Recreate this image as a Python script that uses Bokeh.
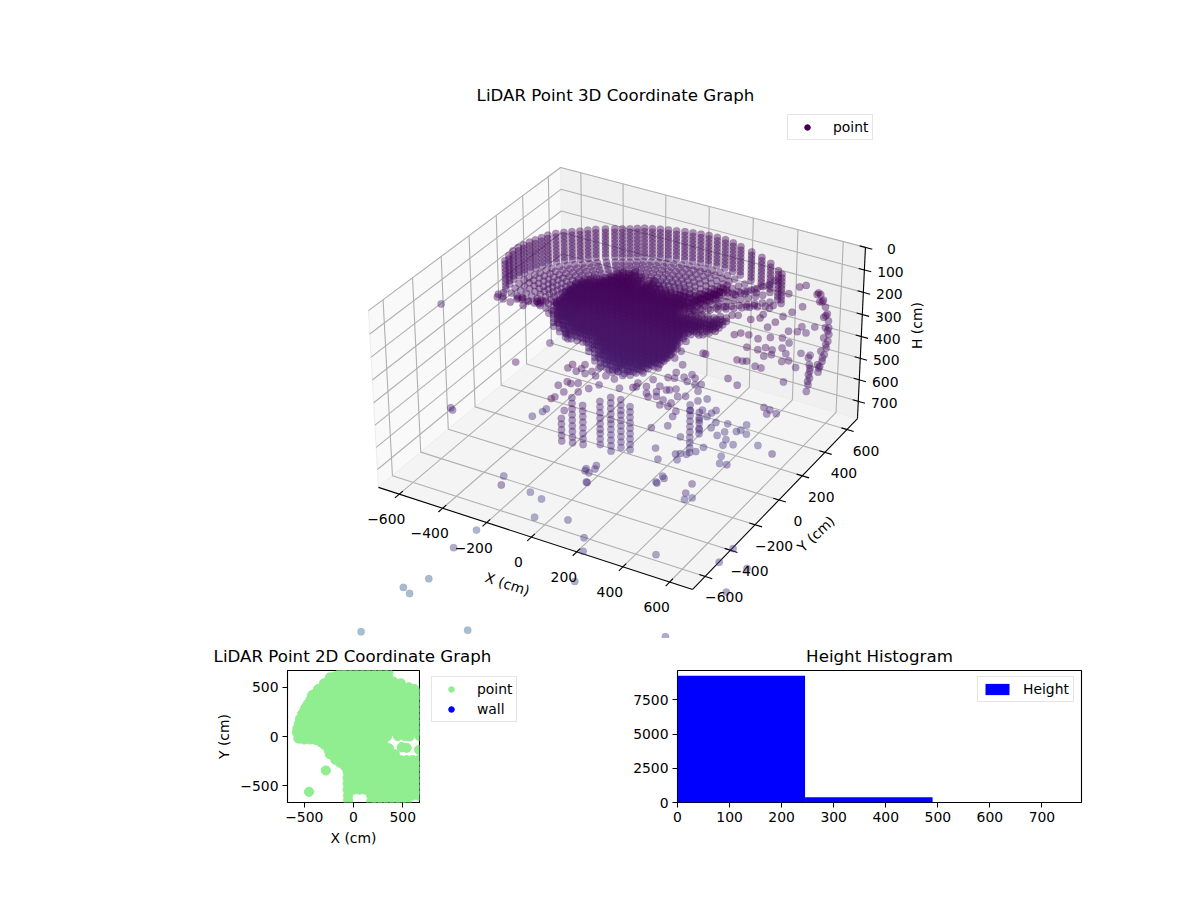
import numpy as np
from bokeh.embed import file_html
from bokeh.resources import INLINE
from bokeh.layouts import column, row
from bokeh.models import ColumnDataSource, Legend, LegendItem, Label, FixedTicker, Range1d, BoxAnnotation
from bokeh.palettes import Viridis256
from bokeh.plotting import figure
from bokeh.core.properties import value

FONT = "DejaVu Sans"
X_TICKS = [-600, -400, -200, 0, 200, 400, 600]
Y_TICKS = [-600, -400, -200, 0, 200, 400, 600]
H_TICKS = [0, 100, 200, 300, 400, 500, 600, 700]
XY_LIM = 697
H_LIM = 782

# isolated returns
FAR_X = [-1047,-816,-568,-504,-450,-486,-18,-778,54,-450,49,-965,-1100,-1069,-775,-1340,585,9,375,650,708,820,839,2,11,47,322,353,475,448,570,711,-275,-395,-612,-486,-436,-418,-27]
FAR_Y = [300,0,0,100,100,100,-400,100,-400,-560,-400,0,0,0,0,0,-700,-400,-400,-400,-400,-500,-700,-300,-300,-300,-300,-300,-300,-300,-200,-100,-345,100,100,100,100,100,-400]
FAR_H = [546,822,1073,1187,1203,1305,880,1465,939,1060,1004,1718,1809,1830,1919,2128,1033,1159,910,852,771,764,743,703,754,681,658,627,613,663,552,514,276,447,295,815,778,760,388]

# sparse field on the right
FIELD_A_X = 560
FIELD_A_Y = [308,402,459,264,342,433,199,134,316,394,472,433,550,160,264,324,121,178,264,108,173,298,433,517,264,324,37,87,389,285,-108,-184,-114,-69,-35,121,173,147,230,-9,69,-140,-88,-22,56,-35,56]
FIELD_A_H = [59,74,94,138,157,176,131,121,228,268,312,265,324,179,232,284,204,243,277,235,261,319,385,435,337,364,244,277,427,440,253,185,140,168,185,470,508,513,555,18,50,19,38,78,133,125,181]
FIELD_B_X = 450
FIELD_B_Y = [247,312,364,169,234]
FIELD_B_H = [56,183,180,80,107]
FIELD_C_X = 350
FIELD_C_Y = [8,29,347,268,190,125,242,294,607,555,503,451,399,347,294,242,203]
FIELD_C_H = [233,247,136,103,117,83,180,206,200,194,177,163,144,125,101,83,63]

# wall arcs at the far right
ARC_X = 700
ARC_Y = [268,300,326,346,365,378,383,386,380,367,352,334,315,302,281,315,352,373,362,336,307,294,320,341,352,334,294,211,221,227,227,216,203,229,216,211]
ARC_H = [5,21,57,97,136,173,206,237,264,288,310,331,343,363,4,59,138,215,270,317,347,326,279,230,190,136,49,253,289,321,351,376,399,308,331,358]

# fringe below the dense core
FRINGE_A_X = 0
FRINGE_A_Y = [-413,-379,-314,-288,-340,-393,-445,-510,-536,-210,-132,-67,-2,-210,-288,-268,-288,-895,-275,-484,-419,-353,-288,-236,-184,-106,-41,37,-340,-262,-184,-28]
FRINGE_A_H = [187,189,240,275,291,265,275,263,257,325,364,412,429,729,701,731,762,439,144,226,244,232,236,292,303,350,391,431,329,354,378,473]
FRINGE_B_X = 200
FRINGE_B_Y = [-271,-232,-167,-115,-62,3,68,133,198,16,68,159,224,250,328,146,81,-10,-89,-167,-245,-154,-89,-62,3,68,42,3,-128,406,328,406,510,365,419,484,497,589,680,628,680,562,471,302,237,159,107,68,81,-75,-94,107,789,458,445,146,-36,-89,211,-193,-75,55,120,224,276,250,289,263,185,-36,29,367,263,81,146,250,107,55]
FRINGE_B_H = [286,286,335,331,387,382,392,447,468,444,467,479,527,570,647,540,507,431,419,365,296,387,398,471,511,568,578,600,539,741,729,798,859,801,866,884,928,938,954,952,999,987,941,860,845,815,784,765,799,711,650,706,1113,987,1015,1022,811,809,1051,262,300,411,384,497,553,615,679,711,626,462,510,733,756,244,292,315,317,321]
FRINGE_C_X = [-500,-500,-500,-300,-300,-300,-300,-300,-300]
FRINGE_C_Y = [-455,266,331,70,83,10,49,75,36]
FRINGE_C_H = [500,421,462,356,392,280,315,365,263]

# vertical stacks low in the room
STACK_X = [0,0,0,0,0,0,0,200,200]
STACK_Y = [-466,-387,-309,-179,-96,-18,55,185,263]
STACK_TOP = [371,328,390,441,461,523,589,582,651]
STACK_BOTTOM = [490,545,599,673,731,770,807,821,786]
STACK_LEVELS = [330,355,380,405,430,455,480,505,530,555,580,600,625,650,675,700,725,750,775,800,821]

# rim columns of the bowl
RIM_X = [-609,-604,-598,-590,-581,-570,-559,-545,-531,-512,-491,-470,-447,-423,-399,-368,-337,-311,-284,-257,-230,-200,-169,-136,-102,-66,-31,6,43,83,123,164,205,268,330,395,458,490]
RIM_Y = [118,140,162,190,215,243,269,295,320,350,378,405,430,452,474,498,520,536,551,564,576,587,597,605,611,616,619,619,618,614,608,597,585,557,525,475,418,385]
RIM_H = [142,128,115,110,108,106,105,102,99,100,102,105,108,108,108,108,109,110,110,107,104,103,102,100,98,95,92,88,84,80,77,76,76,70,63,50,38,30]
RIM_STEPS = [0,16,32,48,64,80,96,112,128]
BOWL_RADII = [0.95,0.9,0.85,0.8,0.75,0.7,0.65,0.6,0.55,0.5,0.45]

# front-left spokes of the bowl
FRONT_X = [-560,-540,-500,-440,-380,-300]
FRONT_Y = [-20,-90,-160,-210,-250,-280]
FRONT_H = [200,170,140,110,90,70]
FRONT_RADII = [0.95,0.8,0.65,0.5,0.38]

# dense core
CORE_X = [-379,-352,-325,-298,-271,-244,-217,-190,-163,-136,-109,-82,-55,-28,-1,26,53,80,107,134,161,188,188,215,215,242,242,269,269,296,296,323,323,350,350]
CORE_TOP = [284,231,200,183,167,155,142,129,117,105,92,84,77,91,111,89,99,109,110,111,108,105,185,97,182,84,183,67,180,55,177,38,169,26,165]
CORE_BOTTOM = [382,401,407,408,410,415,448,475,490,501,502,498,495,491,484,471,454,428,411,368,328,135,253,133,245,116,241,94,229,78,222,61,209,44,192]
CORE_Y = [105,135,165,195]
CORE_LEVELS = [26,44,61,78,94,108,125,140,155,170,185,200,215,230,245,262,280,297,315,332,350,368,385,402,420,437,455,472,490,502]

# 2D view
ROW_Y = [660,600,540,480,420,360,300,240,180,120,60,-20,-60,-120,-180,-240,-300,-360,-420,-480,-540,-600,-660]
ROW_MIN = [-150,-240,-320,-385,-435,-470,-505,-530,-550,-570,-585,-570,-320,-280,-240,-170,-60,-60,-60,-60,-60,130,130]
ROW_MAX = [330,340,520,640,680,680,680,680,680,680,680,320,340,370,470,680,680,680,680,680,680,680,560]
COLUMN_X = [-600,-540,-480,-420,-360,-300,-240,-180,-120,-60,0,60,120,180,240,300,360,420,480,540,600,660,700]
EXTRA_X = [450,520,570,670,490,540,665,-281,-451,-55,-55,-575,-570,-555,-540,-520,-495,-465,-435,-395,-350,-300,-245,-190,-130,-560,-500,-440,-380,-330,-290,-250,-210,-185,-140,-90,-55,355,400,480,560,620,650,360,340]
EXTRA_Y = [5,5,0,5,-108,-115,-135,-345,-562,-600,-650,40,80,130,180,230,280,330,375,430,480,520,565,610,650,-20,-30,-30,-35,-60,-90,-140,-190,-235,-265,-300,-340,640,560,500,500,480,440,40,0]

# histogram
HIST_EDGES = [0,245,490,735]
HIST_COUNTS = [9260,390,8]

# ---- projection of the 3D box on the page
CORNER_BOX = [(0,0,0),(1,0,0),(1,1,0),(0,0,1),(1,1,1),(0,1,1)]
CORNER_PAGE = [(378,487),(692,589),(857,418),(368,310),(865,247),(560,167)]
rows_ = []
for (u,v,w),(a,b) in zip(CORNER_BOX, CORNER_PAGE):
    rows_.append([u,v,w,1,0,0,0,0,-a*u,-a*v,-a*w,-a])
    rows_.append([0,0,0,0,u,v,w,1,-b*u,-b*v,-b*w,-b])
P = np.linalg.svd(np.array(rows_,float))[2][-1].reshape(3,4)

def proj(x,y,h):
    x,y,h = np.asarray(x,float),np.asarray(y,float),np.asarray(h,float)
    q = np.stack([(x+XY_LIM)/(2*XY_LIM),(y+XY_LIM)/(2*XY_LIM),1-h/H_LIM,np.ones_like(x)])
    r = P @ q
    return r[0]/r[2], r[1]/r[2]

# ---- gather points
xs,ys,hs = [],[],[]
def add(a,b,c):
    xs.extend(a); ys.extend(b); hs.extend(c)
add(FAR_X,FAR_Y,FAR_H)
add([FIELD_A_X]*len(FIELD_A_Y),FIELD_A_Y,FIELD_A_H)
add([FIELD_B_X]*len(FIELD_B_Y),FIELD_B_Y,FIELD_B_H)
add([FIELD_C_X]*len(FIELD_C_Y),FIELD_C_Y,FIELD_C_H)
add([ARC_X]*len(ARC_Y),ARC_Y,ARC_H)
add([FRINGE_A_X]*len(FRINGE_A_Y),FRINGE_A_Y,FRINGE_A_H)
add([FRINGE_B_X]*len(FRINGE_B_Y),FRINGE_B_Y,FRINGE_B_H)
add(FRINGE_C_X,FRINGE_C_Y,FRINGE_C_H)
for a,b,t,e in zip(STACK_X,STACK_Y,STACK_TOP,STACK_BOTTOM):
    for l in STACK_LEVELS:
        if t<=l<=e: add([a],[b],[l])
for a,b,t in zip(RIM_X,RIM_Y,RIM_H):
    for s in RIM_STEPS: add([a],[b],[t+s])
    for f in BOWL_RADII: add([a*f],[b*f],[t+135])
for a,b,t in zip(FRONT_X,FRONT_Y,FRONT_H):
    for f in FRONT_RADII: add([a*f],[b*f],[t])
for a,t,e in zip(CORE_X,CORE_TOP,CORE_BOTTOM):
    for b in CORE_Y:
        for l in CORE_LEVELS:
            if t<=l<=e: add([a],[b],[l])

sx,sy = proj(xs,ys,hs)
colors = [Viridis256[min(255,int(h/6000*255))] for h in hs]

# ---- 3D figure
p3 = figure(width=1184,height=638,x_range=Range1d(0,1184),y_range=Range1d(638,0),
            x_axis_location=None,y_axis_location=None,toolbar_location=None,output_backend="svg",
            min_border=0,outline_line_color=None)
p3.grid.visible=False
L=XY_LIM; H=H_LIM
def path(pts):
    a=np.array(pts,float); return proj(a[:,0],a[:,1],a[:,2])
for pts,c in [([(-L,-L,H),(-L,L,H),(-L,L,0),(-L,-L,0)],"#F9F9F9"),
              ([(-L,L,H),(L,L,H),(L,L,0),(-L,L,0)],"#F0F0F0"),
              ([(-L,-L,H),(L,-L,H),(L,L,H),(-L,L,H)],"#F4F4F4")]:
    a,b=path(pts); p3.patch(list(a),list(b),fill_color=c,line_color="#EDEDED",line_width=1)
gx,gy=[],[]
def gl(pts):
    a,b=path(pts); gx.append(list(a)); gy.append(list(b))
for t in X_TICKS: gl([(t,-L,H),(t,L,H),(t,L,0)])
for t in Y_TICKS: gl([(L,t,H),(-L,t,H),(-L,t,0)])
for t in H_TICKS: gl([(-L,-L,t),(-L,L,t),(L,L,t)])
p3.multi_line(gx,gy,line_color="#B0B0B0",line_width=1.1)
ax,ay=[],[]
def al(pts):
    a,b=path(pts); ax.append(list(a)); ay.append(list(b))
al([(-L,-L,H),(L,-L,H)]); al([(L,-L,H),(L,L,H)]); al([(L,L,H),(L,L,0)])
for t in X_TICKS: al([(t,-L-30,H),(t,-L+25,H)])
for t in Y_TICKS: al([(L+30,t,H),(L-25,t,H)])
for t in H_TICKS: al([(L+30,L,t),(L-25,L,t)])
p3.multi_line(ax,ay,line_color="#000000",line_width=1.1)
src=ColumnDataSource(dict(x=sx,y=sy,c=colors))
p3.scatter("x","y",source=src,size=7.4,fill_color="c",line_color="c",fill_alpha=0.42,line_alpha=0.2,line_width=0.5)

def minus(t): return str(t).replace("-","\u2212")
def txt(x,y,s,dx=0,dy=0,angle=0.0,size="13.9px"):
    p3.text([float(x)],[float(y)],text=[s],x_offset=dx,y_offset=dy,angle=angle,text_align="center",
            text_baseline="middle",text_font=value(FONT),text_font_size=size,text_color="#000000")
for t in X_TICKS:
    a,b=proj(t,-L,H); txt(a,b,minus(t),-13,25)
for t in Y_TICKS:
    a,b=proj(L,t,H); txt(a,b,minus(t),19,21)
for t in H_TICKS:
    a,b=proj(L,L,t); txt(a,b,minus(t),26,2)
a,b=proj(0,-L,H); txt(a,b,"X (cm)",-24,47,angle=-0.32)
a,b=proj(L,0,H); txt(a,b,"Y (cm)",37,34,angle=0.75)
a,b=proj(L,L,350); txt(a,b,"H (cm)",55,0,angle=1.5708)
p3.add_layout(Label(x=615,y=638-95,x_units="screen",y_units="screen",text="LiDAR Point 3D Coordinate Graph",
                    text_font=FONT,text_font_size="16.67px",text_align="center",text_baseline="middle",text_color="#000000"))
dummy3=p3.scatter([-999],[-999],size=7.4,fill_color="#440154",line_color="#440154")
LEG=dict(label_text_font=FONT,label_text_font_size="13.9px",label_text_color="#000000",border_line_color="#CCCCCC",
         background_fill_alpha=0.8,padding=4,margin=0,glyph_width=30,glyph_height=14,label_height=14,label_standoff=11,spacing=4)
leg3=Legend(items=[LegendItem(label="point",renderers=[dummy3])],location=(787,498),**LEG)
p3.add_layout(leg3)

def style(p):
    p.grid.visible=False
    p.outline_line_color="#000000"; p.outline_line_width=1.1
    for a in (p.xaxis[0],p.yaxis[0]):
        a.major_tick_in=0; a.major_tick_out=5; a.minor_tick_line_color=None
        a.major_label_text_font=FONT; a.major_label_text_font_size="13.9px"; a.major_label_text_color="#000000"
        a.axis_label_text_font=FONT; a.axis_label_text_font_size="13.9px"; a.axis_label_text_font_style="normal"
        a.axis_label_text_color="#000000"; a.major_label_standoff=4; a.axis_line_color=None
        a.major_tick_line_color="#000000"
    p.title.text_font=FONT; p.title.text_font_size="16.67px"; p.title.text_font_style="normal"; p.title.align="center"
    p.title.text_color="#000000"

# ---- strip holding the title of the 2D view
pt=figure(width=548,height=31,x_range=Range1d(0,1),y_range=Range1d(0,1),x_axis_location=None,y_axis_location=None,
          toolbar_location=None,output_backend="svg",min_border=0,outline_line_color=None)
pt.grid.visible=False
pt.add_layout(Label(x=352,y=13,x_units="screen",y_units="screen",text="LiDAR Point 2D Coordinate Graph",
                    text_font=FONT,text_font_size="16.67px",text_align="center",text_baseline="middle",text_color="#000000"))

# ---- 2D view
p2=figure(width=420,height=193,x_range=Range1d(-670,670),y_range=Range1d(-670,670),toolbar_location=None,
          output_backend="svg",min_border_left=287,min_border_right=1,min_border_top=1,min_border_bottom=60)
style(p2)
p2.xaxis.ticker=FixedTicker(ticks=[-500,0,500]); p2.yaxis.ticker=FixedTicker(ticks=[-500,0,500])
ov={-500:"\u2212500",0:"0",500:"500"}
p2.xaxis.major_label_overrides=ov; p2.yaxis.major_label_overrides=ov
p2.xaxis.axis_label="X (cm)"; p2.yaxis.axis_label="Y (cm)"
px,py=[],[]
for y0,a,b in zip(ROW_Y,ROW_MIN,ROW_MAX):
    for x0 in COLUMN_X:
        if a<=x0<=b: px.append(x0); py.append(y0)
px+=EXTRA_X; py+=EXTRA_Y
p2.scatter(px,py,size=9.2,color="#90EE90")
p2.add_layout(BoxAnnotation(left=-670,right=670,bottom=-670,top=670,fill_color=None,line_color="#000000",
                            line_width=1.1,level="overlay"))

# legend of the 2D view sits in its own strip to the right of the axes
pl=figure(width=128,height=193,x_range=Range1d(0,1),y_range=Range1d(0,1),x_axis_location=None,y_axis_location=None,
          toolbar_location=None,output_backend="svg",min_border=0,outline_line_color=None)
pl.grid.visible=False
rp=pl.scatter([-9],[-9],size=9.2,color="#90EE90")
rw=pl.scatter([-9],[-9],size=9.2,color="#0000FF")
leg2=Legend(items=[LegendItem(label="point",renderers=[rp]),LegendItem(label="wall",renderers=[rw])],
            location=(11,80),**LEG)
pl.add_layout(leg2)

# ---- histogram
ph=figure(width=644,height=224,x_range=Range1d(0,776),y_range=Range1d(0,9650),toolbar_location=None,
          output_backend="svg",title="Height Histogram",min_border_left=129,min_border_right=111,
          min_border_top=32,min_border_bottom=60)
style(ph)
ph.xaxis.ticker=FixedTicker(ticks=H_TICKS); ph.yaxis.ticker=FixedTicker(ticks=[0,2500,5000,7500])
rh=ph.quad(left=HIST_EDGES[:-1],right=HIST_EDGES[1:],bottom=0,top=HIST_COUNTS,fill_color="#0000FF",line_color=None)
legh=Legend(items=[LegendItem(label="Height",renderers=[rh])],location=(300,100),**LEG)
ph.add_layout(legh)

page=column(p3,row(column(pt,row(p2,pl,spacing=0),spacing=0),ph,spacing=0),spacing=0)
open("out.html","w").write(file_html(page,INLINE))
